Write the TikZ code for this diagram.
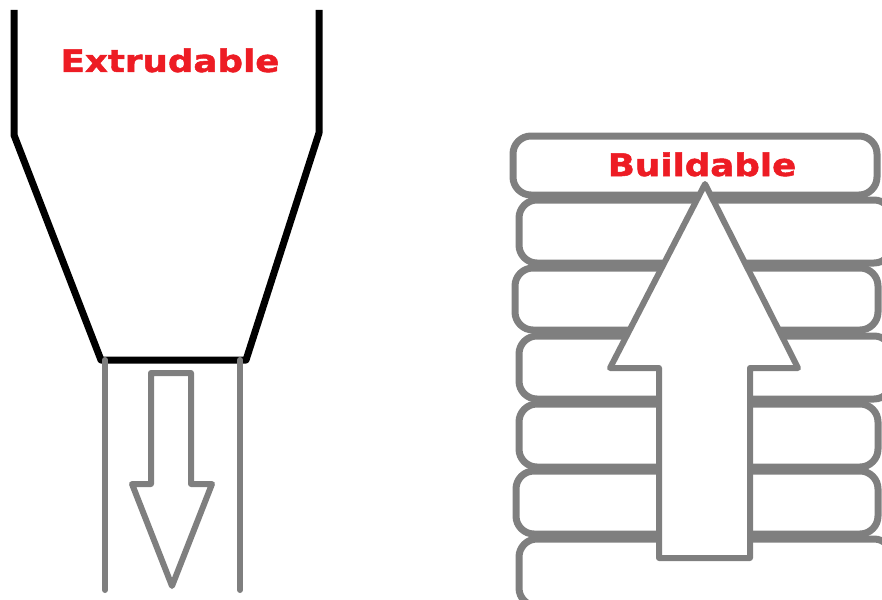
\documentclass[tikz,border=0pt]{standalone}
\usepackage{fontspec}
\newfontfamily\tagfont[FakeStretch=1.15, FakeBold=1.6]{DejaVu Sans Bold}
\usetikzlibrary{positioning}
\definecolor{paintgray}{HTML}{7F7F7F}
\definecolor{paintred}{HTML}{ED1C24}

\begin{document}
\begin{tikzpicture}[x=1pt, y=-1pt,
    wall/.style={line width=7pt, black, line join=round},
    tube/.style={line width=6pt, paintgray, line cap=round},
    layer/.style={line width=7pt, paintgray, rounded corners=18pt},
    hollowarrow/.style={line width=6pt, draw=paintgray, fill=white, line join=round},
    tag/.style={font=\tagfont\fontsize{31}{36}\selectfont, text=paintred, anchor=base, inner sep=0pt}]
                \clip (0,0) rectangle (882,599);

                % Funnel
                \draw[wall] (14,10) -- (14,135) -- (101,360) -- (246,360) -- (319,133) -- (319,10);
                \node[tag] (extr) at (170,72) {Extrudable};

                % Tube
                \draw[tube] (105,360) -- (105,590);
                \draw[tube] (240,360) -- (240,590);

                % Down arrow
                \draw[hollowarrow, fill=none] (151,373) -- (191,373) -- (191,484) -- (212,484) -- (172,586) -- (132,484) -- (151,484) -- cycle;

                % Layers
                \draw[layer] (513,136) rectangle (877,195);
                \draw[layer] (519,200) rectangle (892,263);
                \draw[layer] (515,268) rectangle (878,330);
                \draw[layer] (519,336) rectangle (892,399);
                \draw[layer] (519,404) rectangle (878,467);
                \draw[layer] (516,471) rectangle (878,534);
                \draw[layer] (519,539) rectangle (892,606);

                % Up arrow
                \draw[hollowarrow] (659,558) -- (659,368) -- (610,368) -- (705,184) -- (798,368) -- (750,368) -- (750,558) -- cycle;
                \node[tag] (build) at (702,176) {Buildable};
            \end{tikzpicture}
\end{document}
